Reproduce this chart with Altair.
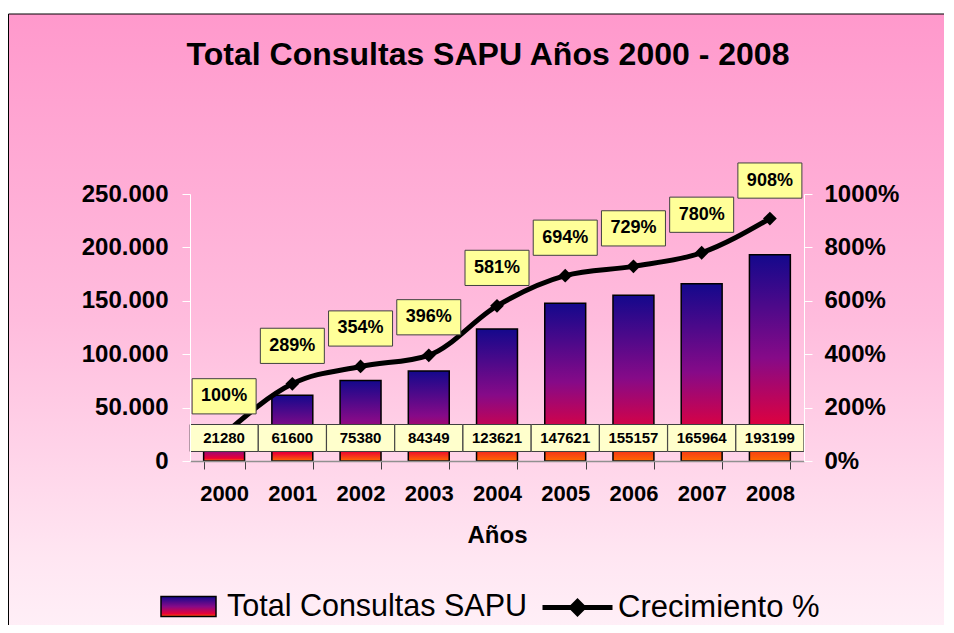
import altair as alt
import pandas as pd

# ---- data ----
years = ['2000', '2001', '2002', '2003', '2004', '2005', '2006', '2007', '2008']
consultas = [21280, 61600, 75380, 84349, 123621, 147621, 155157, 165964, 193199]
crecimiento = [100, 289, 354, 396, 581, 694, 729, 780, 908]
serie_barras = 'Total Consultas SAPU'
serie_linea = 'Crecimiento %'
title_text = 'Total Consultas SAPU Años 2000 - 2008'
x_title = 'Años'
left_ticks = [0, 50000, 100000, 150000, 200000, 250000]
right_ticks = [0, 200, 400, 600, 800, 1000]

df = pd.DataFrame({'anio': years, 'consultas': consultas, 'crec': crecimiento})
df['serie_b'] = serie_barras
df['serie_l'] = serie_linea
df['crec_lbl'] = [f'{v}%' for v in crecimiento]
df['cons_lbl'] = [str(v) for v in consultas]
df['cero'] = 0

FONT = 'Liberation Sans'
base = alt.Chart(df)

bar_grad_expr = ("{gradient: 'linear', x1: 0, y1: 0, x2: 0, y2: 1, stops: ["
                 "{offset: 0, color: '#14088c'}, {offset: 0.5, color: '#860a88'}, "
                 "{offset: 0.88, color: '#ec0033'}, {offset: 1, color: '#ff6a00'}]}")

bg_grad = {'gradient': 'linear', 'x1': 0, 'y1': 0, 'x2': 0, 'y2': 1,
           'stops': [{'offset': 0, 'color': '#ff99cc'},
                     {'offset': 0.45, 'color': '#ffbcdd'},
                     {'offset': 0.8, 'color': '#ffe6f2'},
                     {'offset': 1, 'color': '#fff8fc'}]}

x_axis_def = alt.Axis(zindex=1, labelAngle=0, labelFont=FONT, labelFontSize=22,
                      labelFontWeight='bold', labelColor='black', labelPadding=14,
                      tickSize=8, tickColor='#404040', tickBand='extent',
                      domainColor='#909090', domainWidth=1.5,
                      titleFont=FONT, titleFontSize=24, titleFontWeight='bold',
                      titleColor='black', titlePadding=19)
x_scale = alt.Scale(paddingInner=0.4, paddingOuter=0.2)


def xenc():
    return alt.X('anio:N', title=x_title, scale=x_scale, axis=x_axis_def)


crec_axis_def = alt.Axis(zindex=1, orient='right', values=right_ticks, title=None, grid=False,
                         labelExpr="datum.value + '%'",
                         labelFont=FONT, labelFontSize=24, labelFontWeight='bold',
                         labelColor='black', labelPadding=12, tickSize=8,
                         tickColor='white', domainColor='white')
crec_scale = alt.Scale(domain=[0, 1000])


def ycrec(field='crec:Q'):
    return alt.Y(field, title=None, scale=crec_scale, axis=crec_axis_def)


# background panel (decoration)
bg = alt.Chart(pd.DataFrame({'k': [0]})).mark_rect(
    fill=bg_grad, stroke='black', strokeWidth=1
).encode(x=alt.value(-181.5), x2=alt.value(800), y=alt.value(-180), y2=alt.value(500))

title_mark = alt.Chart(pd.DataFrame({'t': [title_text]})).mark_text(
    font=FONT, fontSize=32, fontWeight='bold', color='black', align='center', baseline='alphabetic'
).encode(text='t:N', x=alt.value(298), y=alt.value(-129))

bars = base.mark_bar(stroke='black', strokeWidth=1.5).encode(
    x=xenc(),
    y=alt.Y('consultas:Q', scale=alt.Scale(domain=[0, 250000]),
            axis=alt.Axis(zindex=1, values=left_ticks, title=None, grid=False,
                          labelExpr="replace(format(datum.value, ','), ',', '.')",
                          labelFont=FONT, labelFontSize=24, labelFontWeight='bold', labelColor='black',
                          labelPadding=14, tickSize=8, tickColor='white', domainColor='white')),
    fill=alt.Fill('serie_b:N',
                  scale=alt.Scale(domain=[serie_barras], range=[{'expr': bar_grad_expr}]),
                  legend=alt.Legend(orient='none', legendX=-30, legendY=384, title=None, padding=0,
                                    symbolType='M-1,-0.36H1V0.36H-1Z', symbolSize=3025,
                                    symbolStrokeColor='black', symbolStrokeWidth=1.5,
                                    labelFont=FONT, labelFontSize=30.5, labelColor='black',
                                    labelOffset=10, labelLimit=600))
)

line = base.mark_line(interpolate='monotone', strokeWidth=5).encode(
    x=xenc(), y=ycrec(),
    stroke=alt.Stroke('serie_l:N', scale=alt.Scale(domain=[serie_linea], range=['black']),
                      legend=alt.Legend(orient='none', legendX=350, legendY=376, title=None, padding=0,
                                        symbolType='M-1,0H1M-0.17,0L0,-0.17L0.17,0L0,0.17Z',
                                        symbolSize=4900, symbolStrokeWidth=5, symbolFillColor='black',
                                        labelFont=FONT, labelFontSize=31, labelColor='black',
                                        labelOffset=3, labelLimit=600))
)

points = base.mark_point(shape='diamond', filled=True, color='black', size=190, opacity=1).encode(
    x=xenc(), y=ycrec())

bottom_box = base.mark_point(shape='M-1,-0.397H1V0.397H-1Z', size=4624, filled=True,
                             fill='#ffffcc', stroke='#404040', strokeWidth=1, opacity=1,
                             yOffset=-23).encode(x=xenc(), y=ycrec('cero:Q'))
bottom_text = base.mark_text(font=FONT, fontSize=15, fontWeight='bold', color='black',
                             baseline='middle', yOffset=-23).encode(
    x=xenc(), y=ycrec('cero:Q'), text='cons_lbl:N')

top_box = base.mark_point(shape='M-1,-0.55H1V0.55H-1Z', size=4096, filled=True,
                          fill='#ffff99', stroke='#404040', strokeWidth=1, opacity=1,
                          yOffset=-38).encode(x=xenc(), y=ycrec())
top_text = base.mark_text(font=FONT, fontSize=18, fontWeight='bold', color='black',
                          baseline='middle', yOffset=-38).encode(
    x=xenc(), y=ycrec(), text='crec_lbl:N')

left = alt.layer(bg, title_mark, bars)
right = alt.layer(line, points, bottom_box, bottom_text, top_box, top_text)

chart = alt.layer(left, right).resolve_scale(y='independent').properties(
    width=614, height=267,
    autosize=alt.AutoSizeParams(type='none'),
    padding={'left': 182, 'top': 186, 'right': 140, 'bottom': 164},
    background='white'
).configure_view(stroke='transparent')

chart.save('out.html', embed_options={'renderer': 'svg', 'actions': False})
